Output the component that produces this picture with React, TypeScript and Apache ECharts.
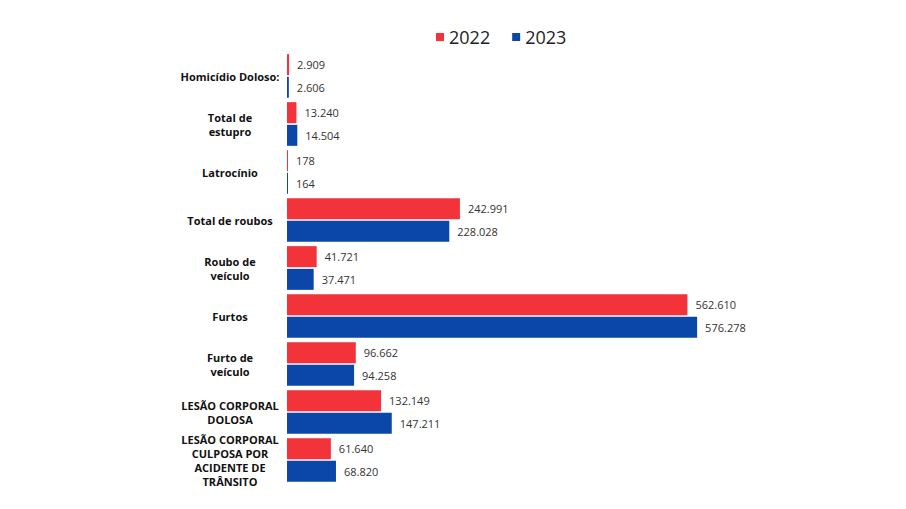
import React, { useEffect, useRef } from "react";
import * as echarts from "echarts";

const categories = [
  "Homicídio Doloso:",
  "Total de\nestupro",
  "Latrocínio",
  "Total de roubos",
  "Roubo de\nveículo",
  "Furtos",
  "Furto de\nveículo",
  "LESÃO CORPORAL\nDOLOSA",
  "LESÃO CORPORAL\nCULPOSA POR\nACIDENTE DE\nTRÂNSITO",
];
const values2022 = [2909, 13240, 178, 242991, 41721, 562610, 96662, 132149, 61640];
const values2023 = [2606, 14504, 164, 228028, 37471, 576278, 94258, 147211, 68820];
const seriesNames = ["2022", "2023"];
const colors = ["#F2333A", "#0A47A9"];

const fmt = (v: number) => String(v).replace(/\B(?=(\d{3})+(?!\d))/g, ".");

export default function App() {
  const ref = useRef<HTMLDivElement>(null);
  useEffect(() => {
    document.body.style.margin = "0";
    const chart = echarts.init(ref.current!, null, { renderer: "svg" });
    const label = {
      show: true,
      position: "right" as const,
      distance: 8,
      fontFamily: "Open Sans",
      fontSize: 11,
      color: "#333",
      formatter: (p: any) => fmt(p.value),
    };
    chart.setOption({
      animation: false,
      textStyle: { fontFamily: "Open Sans" },
      legend: {
        top: 23,
        left: 431,
        data: seriesNames,
        icon: "rect",
        itemWidth: 8,
        itemHeight: 8,
        itemGap: 22,
        textStyle: { fontFamily: "Open Sans", fontSize: 18, color: "#222" },
      },
      grid: { left: 287, right: 192, top: 52, bottom: 25, containLabel: false },
      xAxis: {
        type: "value",
        min: 0,
        max: 600000,
        show: false,
      },
      yAxis: {
        type: "category",
        inverse: true,
        data: categories,
        axisLine: { show: false },
        axisTick: { show: false },
        axisLabel: {
          align: "center",
          margin: 57,
          fontFamily: "Open Sans",
          fontWeight: "bold",
          fontSize: 11,
          lineHeight: 14,
          color: "#111",
        },
      },
      series: [
        {
          name: seriesNames[0],
          type: "bar",
          data: values2022,
          itemStyle: { color: colors[0] },
          barWidth: 21,
          barGap: "8%",
          barMinHeight: 1,
          label,
        },
        {
          name: seriesNames[1],
          type: "bar",
          data: values2023,
          itemStyle: { color: colors[1] },
          barWidth: 21,
          barMinHeight: 1,
          label,
        },
      ],
    });
    return () => chart.dispose();
  }, []);
  return <div ref={ref} style={{ width: 906, height: 509 }} />;
}
